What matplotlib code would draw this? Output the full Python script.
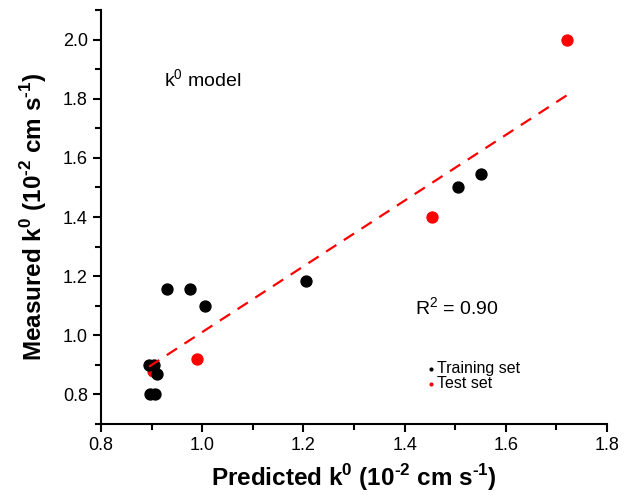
import matplotlib
matplotlib.use("Agg")
import matplotlib.pyplot as plt
from matplotlib.ticker import MultipleLocator
import numpy as np

plt.rcParams['font.family'] = 'Liberation Sans'
plt.rcParams['mathtext.fontset'] = 'custom'
plt.rcParams['mathtext.rm'] = 'Liberation Sans'
plt.rcParams['mathtext.bf'] = 'Liberation Sans:bold'

# Predicted vs measured k0 (10^-2 cm s^-1)
train_pred = [0.93, 0.975, 1.005, 0.895, 0.905, 0.91, 0.897, 0.907, 1.205, 1.505, 1.55]
train_meas = [1.155, 1.155, 1.10, 0.90, 0.90, 0.87, 0.80, 0.80, 1.185, 1.50, 1.545]
test_pred = [0.99, 0.903, 1.455, 1.72]
test_meas = [0.92, 0.88, 1.40, 2.00]
r2_label = "0.90"

fig = plt.figure(figsize=(6.35, 5.03), dpi=100)
ax = fig.add_axes([0.159, 0.157, 0.797, 0.823])

ax.scatter(test_pred, test_meas, s=62, color='red', zorder=3, label='Test set')
ax.scatter(train_pred, train_meas, s=62, color='black', zorder=4, label='Training set')

# linear fit through all points
all_x = np.array(train_pred + test_pred)
all_y = np.array(train_meas + test_meas)
slope, icpt = np.polyfit(all_x, all_y, 1)
xx = np.array([all_x.min(), all_x.max()])
ax.plot(xx, slope * xx + icpt, color='red', lw=1.6, dashes=(5.5, 4), zorder=5)

ax.set_xlim(0.8, 1.8)
ax.set_ylim(0.7, 2.1)
ax.xaxis.set_major_locator(MultipleLocator(0.2))
ax.xaxis.set_minor_locator(MultipleLocator(0.1))
ax.yaxis.set_minor_locator(MultipleLocator(0.1))
ax.set_yticks(np.arange(0.8, 2.01, 0.2))

for s in ['top', 'right']:
    ax.spines[s].set_visible(False)
for s in ['left', 'bottom']:
    ax.spines[s].set_linewidth(1.5)
ax.tick_params(which='major', direction='out', length=6, width=1.5, labelsize=13)
ax.tick_params(which='minor', direction='out', length=4, width=1.5)

hy = '\u2010'
unit = r'k$^\mathbf{0}$ (10$^\mathbf{' + hy + r'2}$ cm s$^\mathbf{' + hy + r'1}$)'
ax.set_xlabel('Predicted ' + unit, fontsize=17.5, fontweight='bold', labelpad=6)
ax.set_ylabel('Measured ' + unit, fontsize=17.5, fontweight='bold', labelpad=10)

ax.text(0.925, 1.84, r'k$^0$ model', fontsize=14)
ax.text(1.42, 1.07, r'R$^2$ = ' + r2_label, fontsize=14)

# legend: training first, then test
handles, labels = ax.get_legend_handles_labels()
ax.legend(handles[::-1], labels[::-1], loc='upper left',
          bbox_to_anchor=(1.43, 0.94), bbox_transform=ax.transData,
          frameon=False, markerscale=0.25, handlelength=0.4, handletextpad=0.2,
          labelspacing=0.0, borderpad=0, fontsize=11.5)

fig.savefig('out.png', dpi=100)
